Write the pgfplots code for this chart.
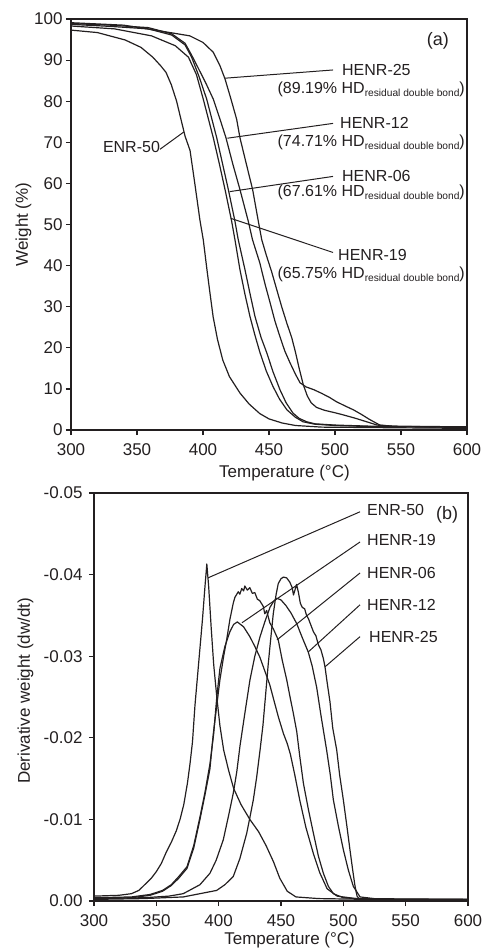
\documentclass[border=0pt]{standalone}
\usepackage{fontspec}
\setmainfont{Liberation Sans}
\usepackage{pgfplots}
\pgfplotsset{compat=1.18}
\definecolor{ink}{RGB}{35,31,32}
\newcommand{\hd}[1]{(#1\% HD\raisebox{-0.35ex}{\fontsize{10.2}{12}\selectfont residual double bond})}
\pgfplotscreateplotcyclelist{mono}{ink, no markers, line width=1.2pt, line join=round\\}
\pgfplotsset{
  tga/.style={
    scale only axis, clip=false,
    axis line style={ink, line width=2pt},
    every tick/.style={ink, line width=1.2pt},
    tick align=outside, tick pos=left,
    major tick length=5pt,
    /pgf/number format/assume math mode=true,
    tick label style={font=\fontsize{17}{20}\selectfont, text=ink},
    xticklabel style={yshift=-5pt},
    label style={font=\fontsize{17}{20}\selectfont, text=ink},
    cycle list name=mono,
  },
}
\tikzset{
  lab/.style={font=\fontsize{16}{19}\selectfont, text=ink, inner sep=0pt},
  lead/.style={ink, line width=1pt},
}
\begin{document}
\begin{tikzpicture}
\path[use as bounding box] (0pt,0pt) rectangle (484pt,-951pt);

% (a) weight loss
\begin{axis}[tga, at={(71pt,-430pt)}, anchor=south west,
  width=396pt, height=411pt,
  xmin=300, xmax=600, ymin=0, ymax=100,
  xtick={300,350,...,600}, ytick={0,10,...,100},
  xlabel={Temperature (°C)}, ylabel={Weight (\%)},
  xlabel style={at={(axis description cs:0.539,-0.105)}, anchor=center},
  ylabel style={at={(axis description cs:-0.12,0.5)}, anchor=center},
]
% ENR-50
\addplot coordinates {(300,97.3)(320,96.7)(341,94.9)(353,93.1)(362,90.7)(368,88.6)(372,87)(376,84)(380,80)(383,76)(386.4,71.5)(390.2,68)(394,59.5)(397.7,51)(400.2,46.3)(402.8,39.5)(405,34)(407.7,27.5)(411,22)(415,17)(420,13)(428,9)(435,6.3)(443,4)(450,2.7)(460,1.7)(470,1.1)(490,0.7)(600,0.4)};
% HENR-19
\addplot coordinates {(300,98.3)(333,97.6)(361,95.9)(379,93.5)(389,90.7)(395,86.5)(400.2,80.5)(404,75.8)(407.8,71.1)(412,65.3)(416.7,58.5)(421.7,50.8)(424.2,46.3)(428,39)(431.8,33)(435.6,27.6)(439.4,23)(443.2,18.8)(448,14.3)(453,10.6)(458,7.5)(463.6,4.9)(470,3.1)(475.8,2)(485,1.4)(500,1.1)(530,0.8)(600,0.7)};
% HENR-06
\addplot coordinates {(300,98.7)(330,98.2)(358.6,97.6)(376.3,96.1)(386.4,93.7)(391.4,90.7)(397,86)(402.8,80.5)(406.6,75.8)(410.4,71.1)(415,64.5)(419.2,58.5)(424.2,50.8)(426.7,46.3)(431.8,39)(435.6,33.2)(439.4,27.6)(444,22.5)(448.3,18.8)(453,14.2)(458.3,9.8)(463,6.6)(468.2,4.1)(473,2.8)(478.6,2)(485,1.5)(500,1.2)(530,0.9)(600,0.8)};
% HENR-12
\addplot coordinates {(300,98.9)(330,98.5)(358.6,97.9)(376.3,96.4)(386.4,94.1)(391.4,91.2)(396,88.3)(402,84.5)(407.8,80.5)(412.5,76)(417.4,71.1)(422.5,64.8)(428,58.5)(434.3,50.8)(437.5,46.3)(443,40.7)(447,35.5)(450.8,31)(454.5,26.5)(458.3,22.7)(462,19.2)(466,16.3)(470,13.6)(473.5,11.5)(478,10.5)(484,9.8)(490,8.9)(496,7.9)(501,6.9)(508,5.8)(514,4.9)(520,3.8)(526,2.6)(534,1.2)(545,0.9)(600,0.7)};
% HENR-25
\addplot coordinates {(300,99.1)(340,98.5)(375,96.7)(390,95.9)(400,94.3)(407.8,91.9)(412.9,88.6)(416.7,85.4)(421.2,80.5)(425.5,75.6)(428,71.1)(433,64.5)(437.6,58.5)(441.9,50.8)(444.5,46.3)(448,42.5)(452,38.5)(456,34)(459.6,30)(463.5,26)(467.2,22.5)(470,19)(473,14.8)(476,11)(479,8.3)(482,6.6)(486,5.5)(492,4.8)(500,4.2)(506,3.7)(515,2.9)(525,1.9)(532,1.2)(545,0.9)(600,0.6)};

\draw[lead] (axis cs:498.5,87.6) -- (axis cs:416.7,85.6);
\draw[lead] (axis cs:498.5,74.6) -- (axis cs:418.5,71.0);
\draw[lead] (axis cs:498.5,61.7) -- (axis cs:420.2,58.0);
\draw[lead] (axis cs:498.5,43.2) -- (axis cs:421.0,51.5);
\draw[lead] (axis cs:367.4,68.3) -- (axis cs:385.4,72.5);
\node[lab, anchor=west] at (axis cs:505.3,87.6) {HENR-25};
\node[lab, anchor=east] at (axis cs:598.5,82.9) {\hd{89.19}};
\node[lab, anchor=west] at (axis cs:503.8,74.6) {HENR-12};
\node[lab, anchor=east] at (axis cs:598.5,70.0) {\hd{74.71}};
\node[lab, anchor=west] at (axis cs:505.3,61.7) {HENR-06};
\node[lab, anchor=east] at (axis cs:598.5,57.8) {\hd{67.61}};
\node[lab, anchor=west] at (axis cs:502.3,42.7) {HENR-19};
\node[lab, anchor=east] at (axis cs:598.5,37.8) {\hd{65.75}};
\node[lab, anchor=center] at (axis cs:345.8,68.8) {ENR-50};
\node[lab, font=\fontsize{18}{21}\selectfont, anchor=center] at (axis cs:578,94.6) {(a)};
\end{axis}

% (b) derivative weight
\begin{axis}[tga, at={(94pt,-901pt)}, anchor=south west,
  width=374pt, height=408pt,
  xmin=300, xmax=600, ymin=-0.05, ymax=0, y dir=reverse,
  xtick={300,350,...,600},
  ytick={-0.05,-0.04,-0.03,-0.02,-0.01,0},
  yticklabels={-0.05,-0.04,-0.03,-0.02,-0.01,0.00},
  yticklabel style={xshift=-3pt},
  scaled y ticks=false,
  xlabel={Temperature (°C)}, ylabel={Derivative weight (dw/dt)},
  xlabel style={at={(axis description cs:0.523,-0.096)}, anchor=center},
  ylabel style={at={(axis description cs:-0.183,0.515)}, anchor=center},
]
% ENR-50
\addplot coordinates {(300,-0.0006)(320,-0.0007)(330,-0.0009)(336,-0.0013)(342,-0.0022)(346,-0.0028)(350,-0.0036)(354,-0.0046)(358,-0.0060)(362,-0.0072)(366,-0.0086)(369,-0.0100)(372,-0.0118)(375,-0.0145)(377,-0.0168)(379,-0.0195)(381,-0.0240)(383,-0.0275)(385,-0.0310)(387,-0.0345)(389,-0.0385)(390.5,-0.0413)(392,-0.0385)(394,-0.0335)(396,-0.0290)(398.5,-0.0250)(401,-0.0215)(404,-0.0185)(408,-0.0160)(412,-0.0138)(418,-0.0118)(425,-0.0100)(432,-0.0085)(438,-0.0068)(444,-0.0048)(449,-0.0028)(455,-0.0012)(462,-0.0005)(480,-0.0003)(520,-0.0002)(600,-0.0002)};
% HENR-19
\addplot coordinates {(300,-0.0004)(330,-0.0005)(345,-0.0008)(355,-0.0013)(362,-0.0020)(368,-0.0030)(374.6,-0.0042)(380,-0.0068)(385,-0.0103)(389,-0.0133)(393,-0.0168)(396,-0.0205)(398.5,-0.0250)(401,-0.0285)(405,-0.0312)(409,-0.0330)(412,-0.0339)(415,-0.0342)(420,-0.0336)(425,-0.0324)(429,-0.0312)(433,-0.0299)(437,-0.0282)(441,-0.0265)(445,-0.0242)(448,-0.0225)(452,-0.0205)(455,-0.0193)(457.5,-0.0180)(461,-0.0155)(465,-0.0124)(470,-0.0090)(476,-0.0058)(481,-0.0035)(487,-0.0015)(495,-0.0006)(510,-0.0003)(600,-0.0002)};
% HENR-06
\addplot coordinates {(300,-0.0003)(330,-0.0004)(345,-0.0007)(355,-0.0012)(362,-0.0019)(368,-0.0028)(374.6,-0.0040)(380,-0.0065)(385,-0.0100)(389,-0.0130)(393,-0.0162)(395.7,-0.0205)(398.5,-0.0240)(401,-0.0271)(404,-0.0300)(406.4,-0.0320)(409,-0.0345)(411.7,-0.0365)(413,-0.0372)(415.7,-0.0379)(417,-0.0376)(418.5,-0.0383)(420,-0.0380)(421,-0.0386)(423,-0.0381)(425,-0.0384)(427,-0.0377)(429,-0.0378)(431,-0.0370)(433,-0.0368)(435.8,-0.0361)(437,-0.0352)(438.5,-0.0356)(441,-0.0341)(444,-0.0333)(447.8,-0.0320)(451,-0.0295)(454.6,-0.0271)(457,-0.0252)(459.9,-0.0230)(462.6,-0.0208)(465,-0.0178)(468,-0.0144)(472,-0.0112)(476,-0.0083)(480,-0.0055)(484,-0.0034)(488,-0.0018)(492,-0.0009)(500,-0.0004)(520,-0.0002)(600,-0.0002)};
% HENR-12
\addplot coordinates {(300,-0.0003)(340,-0.0004)(360,-0.0006)(371.6,-0.0009)(385,-0.0020)(393,-0.0034)(398,-0.0050)(403.7,-0.0075)(408,-0.0105)(411.7,-0.0132)(414.5,-0.0158)(417.1,-0.0190)(421,-0.0230)(425.1,-0.0271)(429,-0.0300)(433.2,-0.0324)(437,-0.0342)(441.2,-0.0360)(444,-0.0367)(446.6,-0.0371)(450,-0.0369)(454,-0.0362)(458,-0.0353)(462.6,-0.0340)(467,-0.0323)(471.9,-0.0305)(475,-0.0288)(478.6,-0.0262)(482,-0.0228)(486.6,-0.0185)(489.5,-0.0155)(492,-0.0124)(496,-0.0092)(500,-0.0063)(504,-0.0038)(508,-0.0018)(513.4,-0.0005)(530,-0.0002)(600,-0.0002)};
% HENR-25
\addplot coordinates {(300,-0.0002)(340,-0.0003)(371.6,-0.0005)(385,-0.0009)(398.4,-0.0013)(405,-0.0020)(411.7,-0.0030)(417,-0.0052)(422.5,-0.0083)(425,-0.0102)(427.8,-0.0124)(430.5,-0.0152)(433.2,-0.0185)(435.5,-0.0215)(437.5,-0.0250)(439.8,-0.0291)(441.8,-0.0322)(443.8,-0.0352)(446,-0.0375)(447.8,-0.0389)(450,-0.0395)(452,-0.0397)(454.5,-0.0396)(457,-0.0391)(459,-0.0384)(460,-0.0375)(461,-0.0380)(462.5,-0.0388)(464,-0.0378)(465.5,-0.0365)(467,-0.0360)(469,-0.0358)(470.5,-0.0350)(472,-0.0346)(474,-0.0338)(476,-0.0330)(478,-0.0325)(480,-0.0314)(482,-0.0308)(484,-0.0297)(485.3,-0.0287)(487,-0.0268)(489.3,-0.0244)(491.5,-0.0212)(494.7,-0.0185)(497,-0.0155)(500,-0.0124)(503,-0.0090)(505.3,-0.0063)(507.5,-0.0038)(509.4,-0.0018)(511,-0.0006)(513,-0.0002)(600,-0.0002)};

\draw[lead] (axis cs:513.4,-0.0477) -- (axis cs:391.4,-0.0396);
\draw[lead] (axis cs:513.4,-0.0440) -- (axis cs:418.7,-0.0341);
\draw[lead] (axis cs:513.4,-0.0402) -- (axis cs:446.8,-0.0320);
\draw[lead] (axis cs:513.4,-0.0363) -- (axis cs:471.7,-0.0305);
\draw[lead] (axis cs:513.4,-0.0324) -- (axis cs:485.3,-0.0287);
\node[lab, anchor=west] at (axis cs:519,-0.0479) {ENR-50};
\node[lab, anchor=west] at (axis cs:519,-0.0442) {HENR-19};
\node[lab, anchor=west] at (axis cs:519,-0.0402) {HENR-06};
\node[lab, anchor=west] at (axis cs:519,-0.0363) {HENR-12};
\node[lab, anchor=west] at (axis cs:520.6,-0.0324) {HENR-25};
\node[lab, font=\fontsize{18}{21}\selectfont, anchor=center] at (axis cs:583.2,-0.0473) {(b)};
\end{axis}
\end{tikzpicture}
\end{document}
